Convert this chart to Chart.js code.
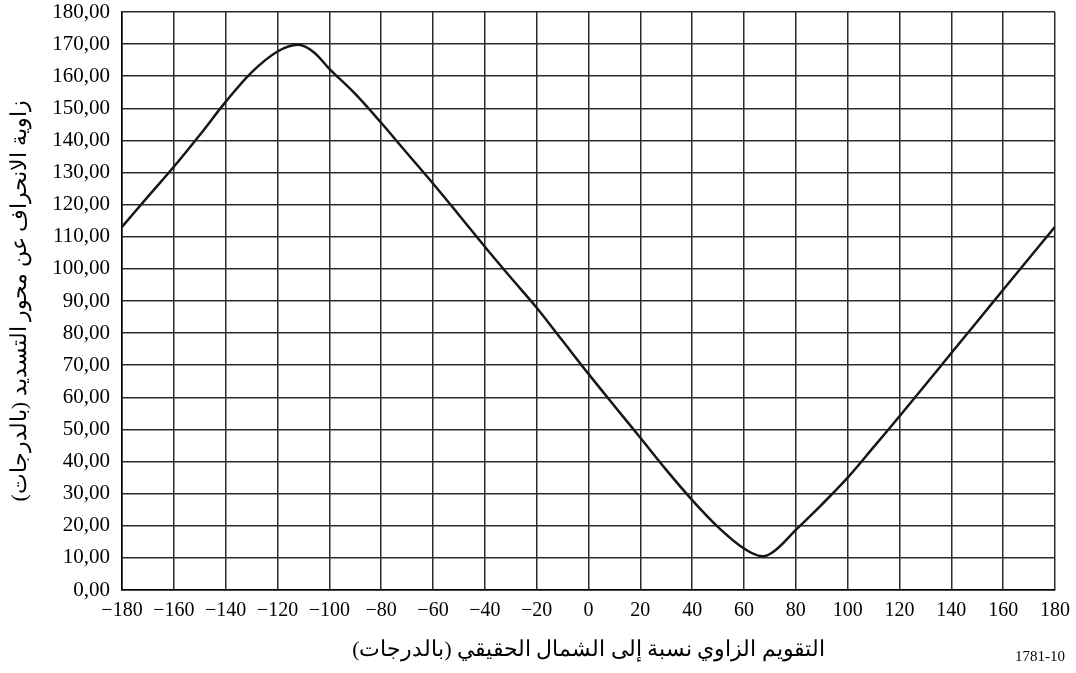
<!DOCTYPE html>
<html>
<head>
<meta charset="utf-8">
<script src="https://cdn.jsdelivr.net/npm/chart.js@4/dist/chart.umd.min.js"></script>
<style>
  body { margin: 0; background: #fff; }
  #wrap { width: 1076px; height: 673px; }
</style>
</head>
<body>
<div id="wrap"><canvas id="chart" width="1076" height="673"></canvas></div>
<script>
// azimuth relative to true north (degrees)
var azimuth = [-180, -170, -160, -150, -140, -130, -120, -112, -106, -100, -90, -80, -70, -60, -50, -40, -30, -20, -10, 0,
  10, 20, 30, 40, 50, 60, 67, 72, 80, 90, 100, 110, 120, 130, 140, 150, 160, 170, 180];
// off-boresight angle (degrees)
var offAngle = [113.1, 122.5, 131.8, 141.7, 152.0, 161.2, 167.7, 169.8, 167.5, 162.3, 154.5, 145.5, 136.0, 126.6, 116.8, 106.9, 97.3, 87.9, 77.6, 67.3,
  57.3, 47.4, 37.4, 28.0, 19.6, 12.9, 10.5, 12.3, 18.7, 26.6, 35.0, 44.5, 54.1, 63.9, 73.8, 83.6, 93.5, 103.3, 113.1];

var xTitle = 'التقويم الزاوي نسبة إلى الشمال الحقيقي (بالدرجات)';
var yTitle = 'زاوية الانحراف عن محور التسديد (بالدرجات)';
var figNote = '1781-10';

var serif = "'Liberation Serif', 'Times New Roman', 'DejaVu Serif', serif";

var points = [];
for (var i = 0; i < azimuth.length; i++) {
  points.push({x: azimuth[i], y: offAngle[i]});
}

// arabic titles drawn by hand so they can use rtl direction
var titlesPlugin = {
  id: 'titles',
  afterDraw: function(chart) {
    var ctx = chart.ctx;
    var area = chart.chartArea;
    ctx.save();
    ctx.fillStyle = '#000';
    ctx.textAlign = 'center';
    ctx.textBaseline = 'middle';
    ctx.direction = 'rtl';
    ctx.font = '21.5px ' + serif;
    ctx.fillText(xTitle, (area.left + area.right) / 2, 650);

    ctx.save();
    ctx.font = '22px ' + serif;
    ctx.translate(20, (area.top + area.bottom) / 2);
    ctx.rotate(-Math.PI / 2);
    ctx.fillText(yTitle, 0, 0);
    ctx.restore();

    ctx.direction = 'ltr';
    ctx.font = '15px ' + serif;
    ctx.fillText(figNote, 1040, 657);
    ctx.restore();
  }
};

var ctx = document.getElementById('chart').getContext('2d');
var chart = new Chart(ctx, {
  type: 'line',
  data: {
    datasets: [{
      data: points,
      borderColor: '#1a1414',
      borderWidth: 2.5,
      pointRadius: 0,
      fill: false,
      tension: 0.35
    }]
  },
  options: {
    responsive: false,
    animation: false,
    events: [],
    layout: { padding: { left: 0, right: 21, top: 12, bottom: 0 } },
    plugins: { legend: { display: false }, tooltip: { enabled: false } },
    scales: {
      x: {
        type: 'linear',
        min: -180,
        max: 180,
        afterFit: function(scale) {
          scale.height = 83;
          scale.paddingLeft = 0;
          scale.paddingRight = 0;
        },
        grid: { color: '#2e2a2a', lineWidth: 1.5, drawTicks: false },
        border: { color: '#000', width: 1.5 },
        ticks: {
          stepSize: 20,
          autoSkip: false,
          maxRotation: 0,
          padding: 9,
          color: '#000',
          font: { family: serif, size: 20 },
          callback: function(v) { return v < 0 ? '\u2212' + (-v) : String(v); }
        }
      },
      y: {
        min: 0,
        max: 180,
        afterFit: function(scale) {
          scale.width = 122;
          scale.paddingTop = 0;
          scale.paddingBottom = 0;
        },
        grid: { color: '#2e2a2a', lineWidth: 1.5, drawTicks: false },
        border: { color: '#000', width: 1.5 },
        ticks: {
          stepSize: 10,
          autoSkip: false,
          padding: 12,
          color: '#000',
          font: { family: serif, size: 21 },
          callback: function(v) { return v.toFixed(2).replace('.', ','); }
        }
      }
    }
  },
  plugins: [titlesPlugin]
});
</script>
</body>
</html>
